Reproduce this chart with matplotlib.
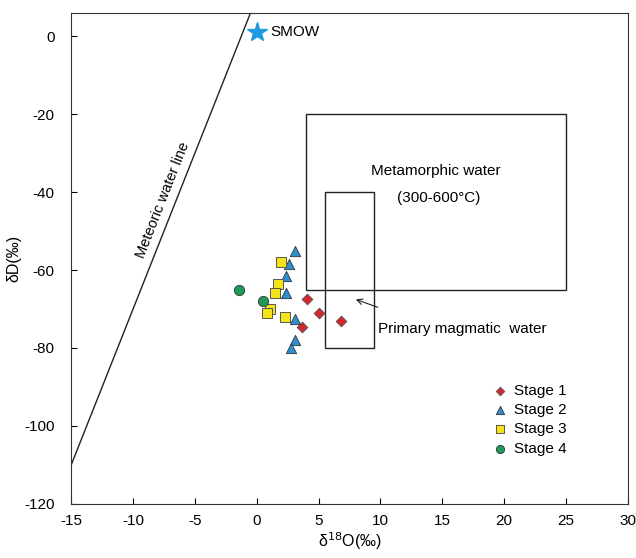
import numpy as np
import matplotlib.pyplot as plt

plt.rcParams['font.family'] = ['Liberation Sans', 'DejaVu Sans']
plt.rcParams['axes.unicode_minus'] = False

# isotope data (d18O, dD)
s1_x = [4.1, 5.0, 6.8, 3.7]
s1_y = [-67.5, -71.0, -73.0, -74.5]
s2_x = [3.1, 2.6, 2.4, 2.4, 3.1, 3.1, 2.8]
s2_y = [-55.0, -58.5, -61.5, -66.0, -72.5, -78.0, -80.0]
s3_x = [2.0, 1.7, 1.5, 1.1, 0.8, 2.3]
s3_y = [-58.0, -63.5, -66.0, -70.0, -71.0, -72.0]
s4_x = [-1.4, 0.5]
s4_y = [-65.0, -68.0]

# meteoric water line dD = 8*d18O + 10
mwl_x = [-15, 0]
mwl_slope, mwl_icpt = 8, 10

fig = plt.figure(figsize=(6.36, 5.58), dpi=100)
ax = fig.add_axes([0.112, 0.097, 0.875, 0.88])

xs = np.array(mwl_x, dtype=float)
ax.plot(xs, mwl_slope * xs + mwl_icpt, color='#222222', lw=1)
ax.text(-7.6, -42, 'Meteoric water line', rotation=68.5, ha='center', va='center', fontsize=10.5)

ax.plot(0, 1, marker='*', color='#1e9be0', ms=15, ls='none')
ax.text(1.1, 1, 'SMOW', fontsize=11, va='center')

# metamorphic and magmatic water boxes
ax.add_patch(plt.Rectangle((4, -65), 21, 45, fill=False, ec='#222222', lw=1))
ax.add_patch(plt.Rectangle((5.5, -80), 4, 40, fill=False, ec='#222222', lw=1))
ax.text(14.5, -34.5, 'Metamorphic water', ha='center', va='center', fontsize=11)
ax.text(14.7, -41.5, '(300-600°C)', ha='center', va='center', fontsize=11)
ax.text(9.8, -75, 'Primary magmatic  water', ha='left', va='center', fontsize=11)
ax.annotate('', xy=(7.8, -67.3), xytext=(10, -69.8),
            arrowprops=dict(arrowstyle='->', color='#222222', lw=0.8))

ax.scatter(s1_x, s1_y, marker='D', s=30, c='#d0282c', edgecolors='#555555', linewidths=0.6, label='Stage 1', zorder=3)
ax.scatter(s2_x, s2_y, marker='^', s=55, c='#2f8fd0', edgecolors='#333333', linewidths=0.6, label='Stage 2', zorder=3)
ax.scatter(s3_x, s3_y, marker='s', s=55, c='#f5e31a', edgecolors='#555555', linewidths=0.7, label='Stage 3', zorder=3)
ax.scatter(s4_x, s4_y, marker='o', s=55, c='#1f9a55', edgecolors='#333333', linewidths=0.6, label='Stage 4', zorder=3)

ax.legend(loc='lower right', bbox_to_anchor=(0.915, 0.07), frameon=False, fontsize=11,
          handletextpad=0.3, labelspacing=0.35, handlelength=1.2, markerscale=0.8)

ax.set_xlim(-15, 30)
ax.set_ylim(-120, 6)
ax.set_xticks(np.arange(-15, 31, 5))
ax.set_yticks(np.arange(-120, 1, 20))
ax.tick_params(direction='in', length=4, labelsize=11, top=False, right=False)
ax.tick_params(axis='x', pad=7)
ax.tick_params(axis='y', pad=12)
ax.set_xlabel(r'δ$^{18}$O(‰)', fontsize=11.5, labelpad=2)
ax.set_ylabel('δD(‰)', fontsize=11.5, labelpad=2)
for sp in ax.spines.values():
    sp.set_color('#333333')

fig.savefig('out.png', dpi=100)
